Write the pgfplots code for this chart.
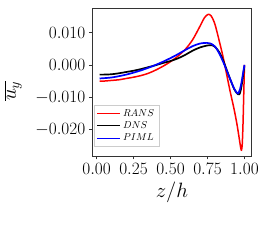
\documentclass[border=0pt]{standalone}
\usepackage{pgfplots}
\pgfplotsset{compat=1.18}
\begin{document}
\begin{tikzpicture}
\useasboundingbox (-92.3pt,-87pt) rectangle (168.7pt,155.9pt);
\begin{axis}[
  at={(0pt,0pt)}, anchor=south west,
  scale only axis, width=159.4pt, height=147.7pt,
  xmin=-0.029, xmax=1.049, ymin=-0.0281, ymax=0.0175,
  xtick={0,0.25,0.5,0.75,1}, ytick={-0.02,-0.01,0,0.01},
  scaled y ticks=false, scaled x ticks=false,
  xticklabel style={/pgf/number format/.cd, fixed, fixed zerofill, precision=2},
  yticklabel style={/pgf/number format/.cd, fixed, fixed zerofill, precision=3},
  ticklabel style={font=\fontsize{17}{20}\selectfont},
  tick align=outside, major tick length=3.5pt,
  tick style={black!80, line width=0.6pt},
  xtick pos=bottom, ytick pos=left,
  axis line style={black!80, line width=0.7pt},
  xlabel={$z/h$}, ylabel={$\overline{u_y}$},
  label style={font=\fontsize{20}{24}\selectfont},
  xlabel style={at={(axis description cs:0.5,-0.284)}, anchor=base},
  ylabel style={at={(axis description cs:-0.495,0.44)}, anchor=center},
  legend style={at={(0.009,0.063)}, anchor=south west, font=\fontsize{10}{12}\selectfont,
    draw=black!20, inner xsep=3pt, inner ysep=2pt},
  legend cell align=left,
  legend image code/.code={\draw[#1] (0pt,0pt) -- (23pt,0pt); \draw[#1] (0pt,0pt) -- (23pt,0pt);},
]
\addlegendimage{draw=red, color=red, line width=1.1pt}
\addlegendentry{$RANS$}
\addlegendimage{draw=black, color=black, line width=1.1pt}
\addlegendentry{$DNS$}
\addlegendimage{draw=blue, color=blue, line width=1.1pt}
\addlegendentry{$PIML$}
\addplot[color=red, line width=1.5pt, smooth, forget plot] coordinates {
(0.02,-0.0050) (0.05,-0.0050) (0.1,-0.0048) (0.15,-0.0046) (0.2,-0.0042)
(0.25,-0.0038) (0.3,-0.0033) (0.35,-0.0026) (0.4,-0.0016) (0.45,-0.0004)
(0.5,0.0010) (0.55,0.0027) (0.6,0.0048) (0.65,0.0078) (0.7,0.0120)
(0.73,0.0146) (0.755,0.0156) (0.775,0.0151) (0.8,0.0126) (0.83,0.0073)
(0.86,0.0015) (0.9,-0.0075) (0.93,-0.0137) (0.95,-0.0185) (0.965,-0.0228)
(0.975,-0.0257) (0.98,-0.0263) (0.985,-0.0245) (0.99,-0.0185) (0.995,-0.0095) (1.0,0.0)
};
\addplot[color=black, line width=1.7pt, smooth, forget plot] coordinates {
(0.02,-0.0030) (0.05,-0.0030) (0.1,-0.0029) (0.15,-0.0026) (0.2,-0.0022)
(0.25,-0.0018) (0.3,-0.0013) (0.35,-0.0007) (0.4,-0.0001) (0.45,0.0006)
(0.5,0.0012) (0.55,0.0020) (0.6,0.0031) (0.65,0.0044) (0.7,0.0054)
(0.75,0.0060) (0.775,0.0061) (0.8,0.0056) (0.83,0.0039) (0.86,0.0009)
(0.9,-0.0040) (0.93,-0.0074) (0.95,-0.0088) (0.965,-0.0091) (0.975,-0.0078)
(0.985,-0.0052) (0.995,-0.0018) (1.0,-0.0005)
};
\addplot[color=blue, line width=1.7pt, smooth, forget plot] coordinates {
(0.02,-0.0042) (0.05,-0.0041) (0.1,-0.0039) (0.15,-0.0035) (0.2,-0.0030)
(0.25,-0.0024) (0.3,-0.0017) (0.35,-0.0009) (0.4,0.0000) (0.45,0.0010)
(0.5,0.0021) (0.55,0.0033) (0.6,0.0046) (0.65,0.0058) (0.7,0.0066)
(0.745,0.0068) (0.77,0.0066) (0.8,0.0057) (0.83,0.0035) (0.86,0.0005)
(0.9,-0.0040) (0.93,-0.0073) (0.95,-0.0087) (0.958,-0.0088) (0.97,-0.0075)
(0.98,-0.0054) (0.99,-0.0027) (1.0,0.0)
};
\end{axis}
\end{tikzpicture}
\end{document}
